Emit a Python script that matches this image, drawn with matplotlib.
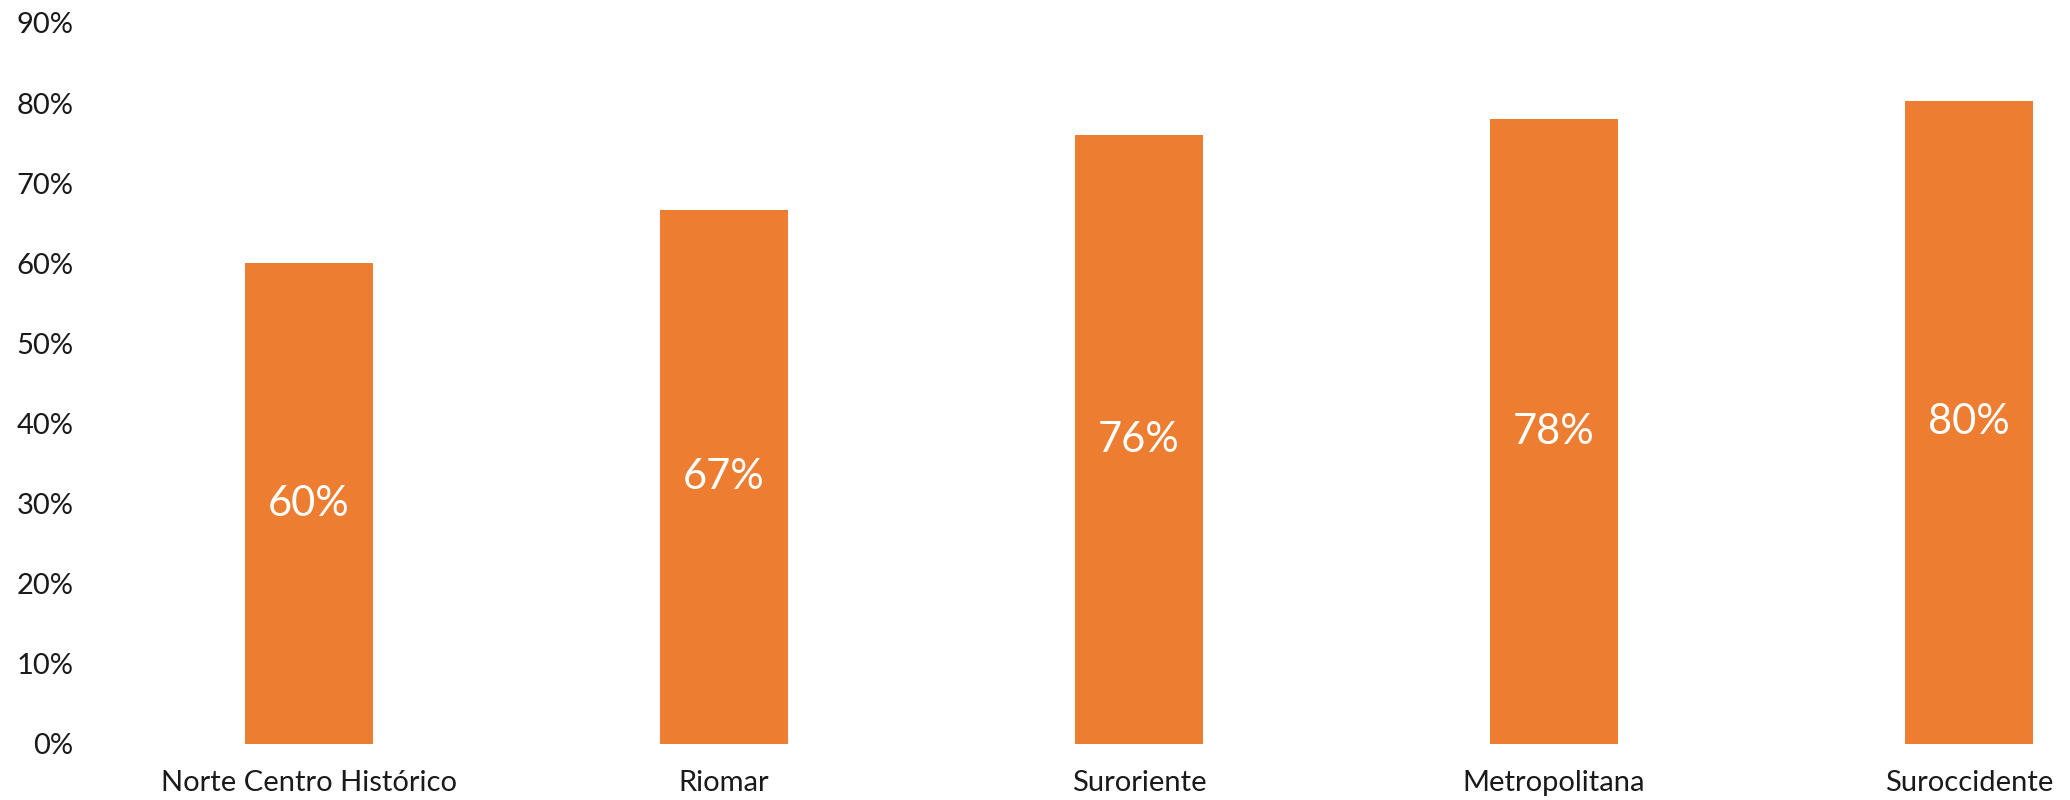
import matplotlib
matplotlib.use("Agg")
import matplotlib.pyplot as plt
from matplotlib.ticker import FuncFormatter

categories = ["Norte Centro Histórico", "Riomar", "Suroriente", "Metropolitana", "Suroccidente"]
values = [0.60, 0.667, 0.76, 0.78, 0.803]
labels = ["60%", "67%", "76%", "78%", "80%"]

plt.rcParams['font.family'] = ['Lato', 'DejaVu Sans']

fig = plt.figure(figsize=(20.7, 8), dpi=100)
ax = fig.add_axes([101.5 / 2070, 1 - 744 / 800, 1 - 101.5 / 2070, (744 - 23) / 800])

x = list(range(len(categories)))
bars = ax.bar(x, values, width=0.31, color="#ED7D31")
for xi, v, lab in zip(x, values, labels):
    ax.text(xi, v / 2, lab, ha="center", va="center", color="white", fontsize=30)

ax.set_ylim(0, 0.9)
ax.set_xlim(-0.5, (2070 - 309) / 415)
ax.set_yticks([i / 10 for i in range(10)])
ax.yaxis.set_major_formatter(FuncFormatter(lambda v, p: f"{round(v * 100)}%"))
ax.set_xticks(x)
ax.set_xticklabels(categories)
ax.tick_params(axis="both", length=0, labelsize=21, colors="#1a1a1a")
ax.tick_params(axis="x", pad=19)
ax.tick_params(axis="y", pad=20)
for s in ax.spines.values():
    s.set_visible(False)

fig.savefig("out.png", dpi=100)
